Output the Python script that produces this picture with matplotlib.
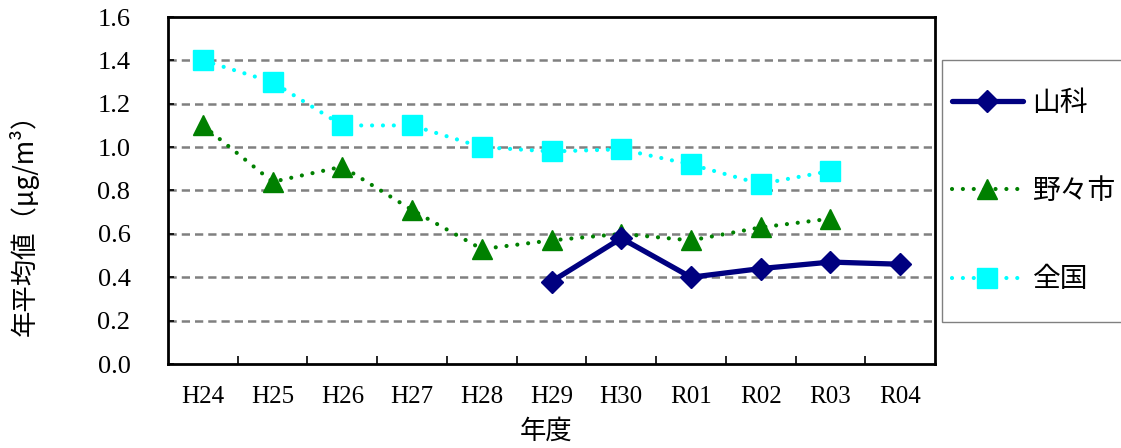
import matplotlib
matplotlib.use("Agg")
import matplotlib.pyplot as plt
from matplotlib.patches import Rectangle
from matplotlib.ticker import FixedLocator, NullFormatter, FormatStrFormatter
import numpy as np

plt.rcParams['font.family'] = ['Noto Sans CJK JP', 'DejaVu Sans']

categories = ["H24", "H25", "H26", "H27", "H28", "H29", "H30", "R01", "R02", "R03", "R04"]
yamashina = [None, None, None, None, None, 0.38, 0.58, 0.40, 0.44, 0.47, 0.46]
nonoichi = [1.10, 0.84, 0.91, 0.71, 0.53, 0.57, 0.60, 0.57, 0.63, 0.67, None]
zenkoku = [1.40, 1.30, 1.10, 1.10, 1.00, 0.98, 0.99, 0.92, 0.83, 0.89, None]
series_labels = ["山科", "野々市", "全国"]
yticks = [0.0, 0.2, 0.4, 0.6, 0.8, 1.0, 1.2, 1.4, 1.6]

def arr(v):
    return np.array([np.nan if x is None else x for x in v], dtype=float)

W, H = 1121, 448
fig = plt.figure(figsize=(W / 100, H / 100), dpi=100)
ax = fig.add_axes([168 / W, 1 - 364 / H, (935 - 168) / W, (364 - 17) / H])

x = np.arange(len(categories)) + 0.5

# grid
for yv in yticks[1:-1]:
    ax.axhline(yv, color="#808080", lw=1.8, linestyle=(0, (3.3, 2.0)), zorder=1)

dot = (0, (0.01, 2.6))
l3, = ax.plot(x, arr(zenkoku), color="#00FFFF", lw=3.0, linestyle=dot, dash_capstyle="round",
              marker="s", ms=14, mfc="#00FFFF", mec="#00FFFF", zorder=3, label=series_labels[2])
l2, = ax.plot(x, arr(nonoichi), color="#008000", lw=3.0, linestyle=dot, dash_capstyle="round",
              marker="^", ms=14, mfc="#008000", mec="#008000", zorder=4, label=series_labels[1])
l1, = ax.plot(x, arr(yamashina), color="#000080", lw=3.8, linestyle="-", solid_capstyle="round",
              marker="D", ms=11, mfc="#000080", mec="#000080", zorder=5, label=series_labels[0])

ax.set_xlim(0, len(categories))
ax.set_ylim(0, 1.6)

ax.xaxis.set_major_locator(FixedLocator(x))
ax.set_xticklabels(categories, fontfamily="Liberation Serif", fontsize=18)
ax.xaxis.set_minor_locator(FixedLocator(np.arange(1, len(categories))))
ax.xaxis.set_minor_formatter(NullFormatter())
ax.tick_params(axis="x", which="major", length=0, pad=16)
ax.tick_params(axis="x", which="minor", direction="in", length=6, width=1.2, color="black")

ax.yaxis.set_major_locator(FixedLocator(yticks))
ax.yaxis.set_major_formatter(FormatStrFormatter("%.1f"))
for t in ax.get_yticklabels():
    t.set_fontfamily("Liberation Serif")
    t.set_fontsize(19)
ax.tick_params(axis="y", which="major", direction="in", length=4, width=1.2, pad=27)

for s in ax.spines.values():
    s.set_linewidth(2.0)
    s.set_color("black")

fig.text(546 / W, 1 - 431 / H, "年度", ha="center", va="center", fontsize=19)
fig.text(24 / W, 1 - 218 / H, "年平均値（μg/m³）", ha="center", va="center",
         rotation=90, fontsize=19, family=['Noto Sans CJK JP', 'DejaVu Sans'])

# legend frame
fig.patches.append(Rectangle((942 / W, 1 - 322 / H), 0.3, (322 - 60) / H, transform=fig.transFigure,
                             facecolor="white", edgecolor="#808080", lw=1.0, zorder=0))
fig.legend(handles=[l1, l2, l3], labels=series_labels, loc="center left",
           bbox_to_anchor=(952 / W, 1 - 191 / H), frameon=False, borderpad=0, borderaxespad=0,
           handlelength=2.55, handletextpad=0.35, labelspacing=2.1, fontsize=20, numpoints=1)

fig.savefig("out.png", dpi=100)
